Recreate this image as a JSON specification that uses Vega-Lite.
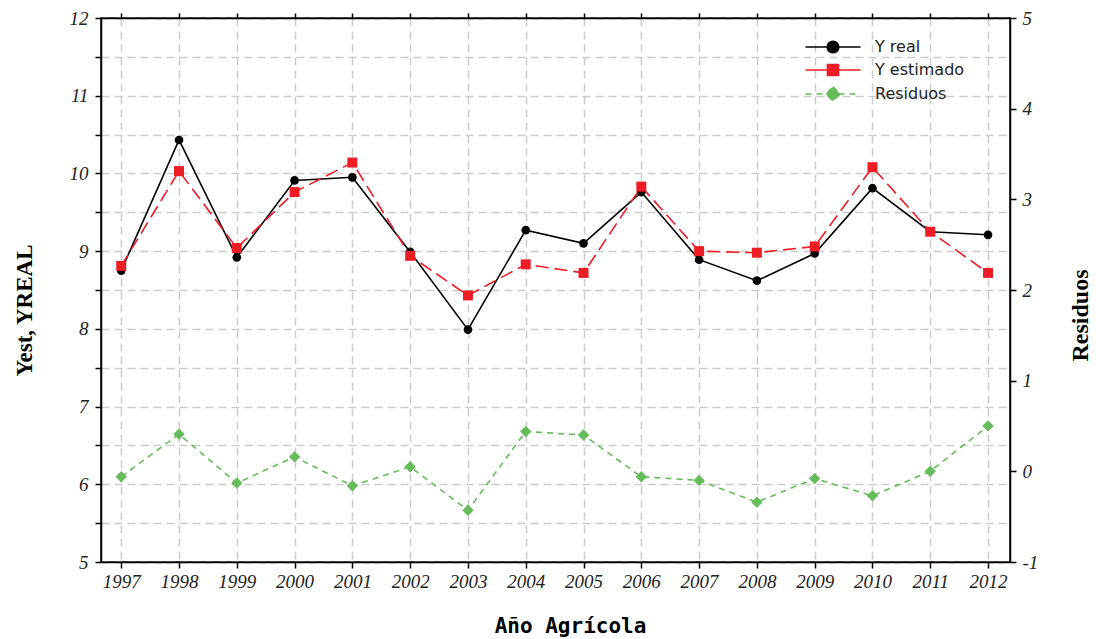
{
  "$schema": "https://vega.github.io/schema/vega-lite/v6.json",
  "width": 909,
  "height": 544,
  "autosize": "none",
  "padding": {"left": 101, "top": 18, "right": 86, "bottom": 77},
  "background": "#ffffff",
  "config": {
    "view": {"stroke": "#000000", "strokeWidth": 1.5},
    "axis": {
      "domainColor": "#000000",
      "domainWidth": 1.5,
      "tickColor": "#000000",
      "tickWidth": 1.5,
      "tickSize": 6,
      "labelFont": "Liberation Serif",
      "labelFontStyle": "italic",
      "labelFontSize": 19,
      "labelColor": "#222222",
      "gridColor": "#cccccc",
      "gridDash": [8, 5],
      "gridWidth": 1.5
    }
  },
  "data": {
    "values": [
      {"year": 1997, "series": "Y real", "value": 8.75},
      {"year": 1998, "series": "Y real", "value": 10.43},
      {"year": 1999, "series": "Y real", "value": 8.92},
      {"year": 2000, "series": "Y real", "value": 9.91},
      {"year": 2001, "series": "Y real", "value": 9.95},
      {"year": 2002, "series": "Y real", "value": 8.99},
      {"year": 2003, "series": "Y real", "value": 7.99},
      {"year": 2004, "series": "Y real", "value": 9.27},
      {"year": 2005, "series": "Y real", "value": 9.10},
      {"year": 2006, "series": "Y real", "value": 9.76},
      {"year": 2007, "series": "Y real", "value": 8.89},
      {"year": 2008, "series": "Y real", "value": 8.62},
      {"year": 2009, "series": "Y real", "value": 8.97},
      {"year": 2010, "series": "Y real", "value": 9.81},
      {"year": 2011, "series": "Y real", "value": 9.25},
      {"year": 2012, "series": "Y real", "value": 9.21},
      {"year": 1997, "series": "Y estimado", "value": 8.81},
      {"year": 1998, "series": "Y estimado", "value": 10.03},
      {"year": 1999, "series": "Y estimado", "value": 9.04},
      {"year": 2000, "series": "Y estimado", "value": 9.76},
      {"year": 2001, "series": "Y estimado", "value": 10.14},
      {"year": 2002, "series": "Y estimado", "value": 8.94},
      {"year": 2003, "series": "Y estimado", "value": 8.43},
      {"year": 2004, "series": "Y estimado", "value": 8.83},
      {"year": 2005, "series": "Y estimado", "value": 8.72},
      {"year": 2006, "series": "Y estimado", "value": 9.83},
      {"year": 2007, "series": "Y estimado", "value": 9.00},
      {"year": 2008, "series": "Y estimado", "value": 8.98},
      {"year": 2009, "series": "Y estimado", "value": 9.06},
      {"year": 2010, "series": "Y estimado", "value": 10.08},
      {"year": 2011, "series": "Y estimado", "value": 9.25},
      {"year": 2012, "series": "Y estimado", "value": 8.72},
      {"year": 1997, "series": "Residuos", "value": -0.06},
      {"year": 1998, "series": "Residuos", "value": 0.41},
      {"year": 1999, "series": "Residuos", "value": -0.13},
      {"year": 2000, "series": "Residuos", "value": 0.16},
      {"year": 2001, "series": "Residuos", "value": -0.16},
      {"year": 2002, "series": "Residuos", "value": 0.05},
      {"year": 2003, "series": "Residuos", "value": -0.43},
      {"year": 2004, "series": "Residuos", "value": 0.44},
      {"year": 2005, "series": "Residuos", "value": 0.40},
      {"year": 2006, "series": "Residuos", "value": -0.06},
      {"year": 2007, "series": "Residuos", "value": -0.10},
      {"year": 2008, "series": "Residuos", "value": -0.34},
      {"year": 2009, "series": "Residuos", "value": -0.08},
      {"year": 2010, "series": "Residuos", "value": -0.27},
      {"year": 2011, "series": "Residuos", "value": 0.00},
      {"year": 2012, "series": "Residuos", "value": 0.50}
    ]
  },
  "resolve": {"scale": {"y": "independent"}, "axis": {"x": "independent", "y": "independent"}},
  "layer": [
    {
      "encoding": {
        "x": {
          "field": "year",
          "type": "quantitative",
          "scale": {"domain": [1996.65, 2012.38], "nice": false, "zero": false},
          "axis": {
            "orient": "bottom",
            "values": [1997, 1998, 1999, 2000, 2001, 2002, 2003, 2004, 2005, 2006, 2007, 2008, 2009, 2010, 2011, 2012],
            "format": "d",
            "grid": true,
            "labelPadding": 4,
            "title": "Año Agrícola",
            "titleFont": "DejaVu Sans Mono",
            "titleFontWeight": "bold",
            "titleFontSize": 21,
            "titleColor": "#000000",
            "titleX": 469,
            "titlePadding": 24
          }
        },
        "y": {
          "field": "value",
          "type": "quantitative",
          "scale": {"domain": [5, 12], "nice": false, "zero": false},
          "axis": {
            "orient": "left",
            "values": [5, 5.5, 6, 6.5, 7, 7.5, 8, 8.5, 9, 9.5, 10, 10.5, 11, 11.5, 12],
            "labelExpr": "datum.value % 1 === 0 ? format(datum.value, 'd') : ''",
            "grid": true,
            "labelPadding": 7,
            "title": "Yest, YREAL",
            "titleFont": "Liberation Serif",
            "titleFontWeight": "bold",
            "titleFontSize": 23,
            "titleColor": "#000000",
            "titleAngle": 270,
            "titleBaseline": "middle",
            "titleX": -77,
            "titleY": 292
          }
        },
        "color": {
          "field": "series",
          "type": "nominal",
          "scale": {"domain": ["Y real", "Y estimado", "Residuos"], "range": ["#000000", "#ee1d25", "#66bb5a"]},
          "legend": {
            "title": null,
            "orient": "none",
            "legendX": 722,
            "legendY": 19,
            "direction": "vertical",
            "padding": 0,
            "rowPadding": 4,
            "symbolSize": 324,
            "symbolStrokeWidth": 1.5,
            "labelOffset": 32,
            "labelFont": "DejaVu Sans",
            "labelFontSize": 16,
            "labelColor": "#222222",
            "encode": {
              "symbols": {
                "update": {
                  "shape": {"signal": "datum.value === 'Y real' ? 'M-3.06,0H3.06M-0.65,0A0.65,0.65,0,1,1,0.65,0A0.65,0.65,0,1,1,-0.65,0Z' : datum.value === 'Y estimado' ? 'M-3.06,0H3.06M-0.62,-0.62H0.62V0.62H-0.62Z' : 'M-3.06,0H3.06M0,-0.8L0.8,0L0,0.8L-0.8,0Z'"},
                  "fill": {"signal": "datum.value === 'Y real' ? '#000000' : datum.value === 'Y estimado' ? '#ee1d25' : '#66bb5a'"},
                  "stroke": {"signal": "datum.value === 'Y real' ? '#000000' : datum.value === 'Y estimado' ? '#ee1d25' : '#66bb5a'"},
                  "strokeDash": {"signal": "datum.value === 'Residuos' ? [6, 5] : []"},
                  "opacity": {"value": 1},
                  "fillOpacity": {"value": 1},
                  "strokeWidth": {"value": 1.5}
                }
              }
            }
          }
        }
      },
      "layer": [
        {
          "transform": [{"filter": "datum.series === 'Y real'"}],
          "mark": {"type": "line", "strokeWidth": 1.6}
        },
        {
          "transform": [{"filter": "datum.series === 'Y estimado'"}],
          "mark": {"type": "line", "strokeWidth": 1.6, "strokeDash": [13, 6]}
        },
        {
          "transform": [{"filter": "datum.series === 'Y real'"}],
          "mark": {"type": "point", "shape": "circle", "filled": true, "opacity": 1, "size": 75}
        },
        {
          "transform": [{"filter": "datum.series === 'Y estimado'"}],
          "mark": {"type": "point", "shape": "square", "filled": true, "opacity": 1, "size": 100}
        }
      ]
    },
    {
      "encoding": {
        "x": {
          "field": "year",
          "type": "quantitative",
          "scale": {"domain": [1996.65, 2012.38], "nice": false, "zero": false},
          "axis": {
            "orient": "top",
            "values": [1997, 1998, 1999, 2000, 2001, 2002, 2003, 2004, 2005, 2006, 2007, 2008, 2009, 2010, 2011, 2012],
            "labels": false,
            "grid": false,
            "tickSize": 5,
            "title": null
          }
        },
        "y": {
          "field": "value",
          "type": "quantitative",
          "scale": {"domain": [-1, 5], "nice": false, "zero": false},
          "axis": {
            "orient": "right",
            "values": [-1, 0, 1, 2, 3, 4, 5],
            "labelExpr": "'' + datum.value",
            "grid": false,
            "labelPadding": 6,
            "title": "Residuos",
            "titleFont": "Liberation Serif",
            "titleFontWeight": "bold",
            "titleFontSize": 24,
            "titleColor": "#000000",
            "titleAngle": 270,
            "titleBaseline": "middle",
            "titleX": 70,
            "titleY": 297
          }
        },
        "color": {
          "field": "series",
          "type": "nominal"
        }
      },
      "layer": [
        {
          "transform": [{"filter": "datum.series === 'Residuos'"}],
          "mark": {"type": "line", "strokeWidth": 1.6, "strokeDash": [6, 5]}
        },
        {
          "transform": [{"filter": "datum.series === 'Residuos'"}],
          "mark": {"type": "point", "shape": "diamond", "filled": true, "opacity": 1, "size": 130}
        }
      ]
    }
  ]
}
